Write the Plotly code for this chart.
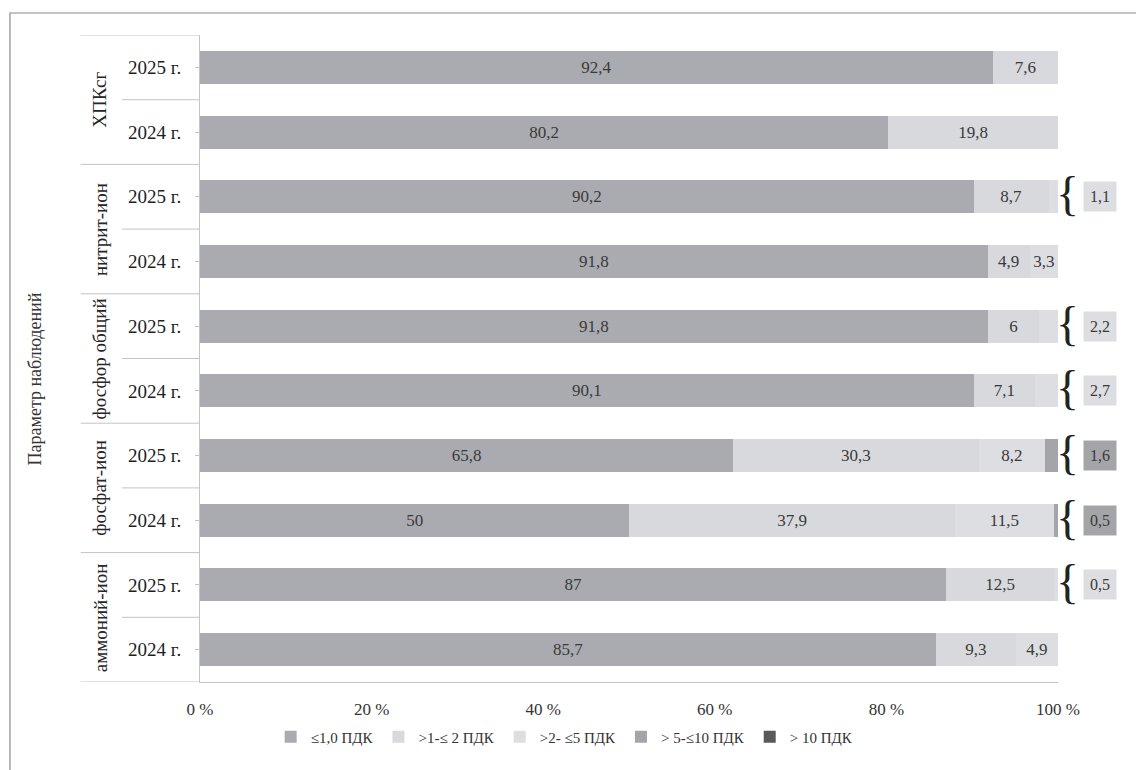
import plotly.graph_objects as go

# Observation parameters (bottom-to-top order on the chart)
groups = ["аммоний-ион", "фосфат-ион", "фосфор общий", "нитрит-ион", "ХПКсг"]
years = ["2024 г.", "2025 г."]

# Share of observations (%) by exceedance class, one value per group/year row
le_1 = [85.7, 87, 50, 65.8, 90.1, 91.8, 91.8, 90.2, 80.2, 92.4]
gt1_le2 = [9.3, 12.5, 37.9, 30.3, 7.1, 6, 4.9, 8.7, 19.8, 7.6]
gt2_le5 = [4.9, 0.5, 11.5, 8.2, 2.7, 2.2, 3.3, 1.1, 0, 0]
gt5_le10 = [0, 0, 0.5, 1.6, 0, 0, 0, 0, 0, 0]
gt10 = [0, 0, 0, 0, 0, 0, 0, 0, 0, 0]

series_names = ["≤1,0 ПДК", ">1-≤ 2 ПДК", ">2- ≤5 ПДК", "> 5-≤10 ПДК", "> 10 ПДК"]
series_colors = ["#a9abb0", "#d7d9dd", "#dcdee2", "#a3a5a9", "#595959"]
x_ticks = [0, 20, 40, 60, 80, 100]
x_tick_labels = ["0 %", "20 %", "40 %", "60 %", "80 %", "100 %"]

FONT = "Liberation Serif"
row_keys = [f"{g}|{y}" for g in groups for y in years]
row_years = [y for g in groups for y in years]
series = [le_1, gt1_le2, gt2_le5, gt5_le10, gt10]


def fmt(v):
    return (f"{v:g}").replace(".", ",")


# Small trailing shares are moved to a bracketed call-out beside the bar
callouts = {}
for i in range(len(row_keys)):
    for s in range(len(series) - 1, -1, -1):
        v = series[s][i]
        if v:
            if v < 3:
                callouts[i] = s
            break

fig = go.Figure()
for s, (name, vals, col) in enumerate(zip(series_names, series, series_colors)):
    texts = []
    for i, v in enumerate(vals):
        if v == 0 or callouts.get(i) == s:
            texts.append("")
        else:
            texts.append(fmt(v))
    fig.add_trace(go.Bar(
        y=row_keys, x=vals, name=name, orientation="h",
        marker=dict(color=col, line=dict(width=0)),
        text=texts, textposition="inside", insidetextanchor="middle",
        textangle=0, constraintext="none",
        textfont=dict(family=FONT, size=17, color="#3a3a3a"),
        hoverinfo="skip",
    ))

shapes = []
# multi-level category dividers left of the value axis
for k in range(len(row_keys) + 1):
    yv = k - 0.5
    x0 = -0.139 if k % 2 == 0 else -0.091
    shapes.append(dict(type="line", xref="paper", yref="y", x0=x0, x1=0,
                       y0=yv, y1=yv, line=dict(color="#c4c4c4", width=1)))
# outer frame
shapes.append(dict(type="rect", xref="paper", yref="paper",
                   x0=-0.2215, x1=1.1, y0=-0.15, y1=1.034,
                   line=dict(color="#8a8a8a", width=1.2)))

annotations = []
for gi, g in enumerate(groups):
    annotations.append(dict(
        xref="paper", yref="y", x=-0.1166, y=gi * 2 + 0.5, text=g,
        textangle=-90, showarrow=False, xanchor="center",
        font=dict(family=FONT, size=19, color="#262626")))
annotations.append(dict(
    xref="paper", yref="paper", x=-0.192, y=0.468, xanchor="center",
    text="Параметр наблюдений", textangle=-90, showarrow=False,
    font=dict(family=FONT, size=18, color="#333333")))

for i, s in callouts.items():
    annotations.append(dict(
        xref="paper", yref="y", x=1.0105, y=i, text="{", showarrow=False,
        xanchor="center", yanchor="middle",
        font=dict(family=FONT, size=48, color="#222222"), yshift=3))
    annotations.append(dict(
        xref="paper", yref="y", x=1.049, y=i, text=fmt(series[s][i]),
        showarrow=False, bgcolor=series_colors[s], borderpad=6,
        xanchor="center", yanchor="middle",
        font=dict(family=FONT, size=16, color="#3a3a3a")))

fig.update_layout(
    barmode="stack", barnorm="percent", bargap=0.49,
    width=1136, height=770,
    margin=dict(l=200, r=78, t=35, b=88),
    paper_bgcolor="white", plot_bgcolor="white",
    font=dict(family=FONT, color="#333333"),
    shapes=shapes, annotations=annotations,
    legend=dict(orientation="h", x=0.425, xanchor="center", y=-0.085,
                yanchor="middle", traceorder="normal",
                font=dict(family=FONT, size=15, color="#333333"),
                itemwidth=30),
    xaxis=dict(range=[0, 100], tickvals=x_ticks, ticktext=x_tick_labels,
               showgrid=False, zeroline=False, showline=True,
               linecolor="#c4c4c4", ticks="", ticklabelstandoff=12,
               tickfont=dict(family=FONT, size=17, color="#333333")),
    yaxis=dict(type="category", categoryorder="array", categoryarray=row_keys,
               tickvals=row_keys, ticktext=row_years,
               showgrid=False, zeroline=False, showline=True,
               linecolor="#c4c4c4", ticks="outside", ticklen=4,
               tickcolor="#c4c4c4", ticklabelstandoff=10,
               range=[-0.5, len(row_keys) - 0.5],
               tickfont=dict(family=FONT, size=19, color="#1e1e1e")),
)

fig.write_html("out.html")
